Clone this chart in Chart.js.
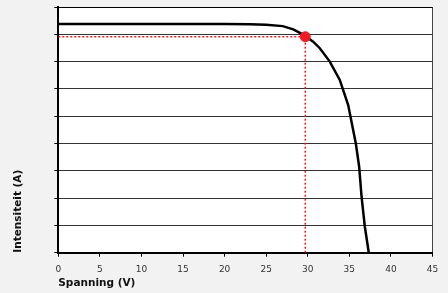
<!DOCTYPE html>
<html>
<head>
<meta charset="utf-8">
<script src="https://cdn.jsdelivr.net/npm/chart.js@4"></script>
<style>
    body { margin: 0; background: #f2f2f2; }
    canvas { display: block; }
</style>
</head>
<body>
<canvas id="iv-chart" width="448" height="293"></canvas>
<script>
// I-V curve
const voltage = [0, 10, 20, 23, 25, 27, 28.25, 29.45, 30.65, 31.45, 32.65, 33.85, 34.86, 35.78, 36.18, 36.47, 36.86, 37.34];
const current = [8.38, 8.38, 8.38, 8.37, 8.35, 8.3, 8.18, 7.99, 7.73, 7.49, 7.0, 6.33, 5.41, 4.0, 3.15, 2.05, 0.96, 0];

// maximum power point
const mppVoltage = 29.7;
const mppCurrent = 7.91;

const xTicks = [0, 5, 10, 15, 20, 25, 30, 35, 40, 45];
const yMax = 9;

const plotBackground = {
    id: 'plotBackground',
    beforeDraw(chart) {
        const { ctx, chartArea: a } = chart;
        ctx.save();
        ctx.fillStyle = '#ffffff';
        ctx.fillRect(a.left, a.top, a.right - a.left, a.bottom - a.top);
        ctx.restore();
    }
};

const curve = voltage.map((v, i) => ({ x: v, y: current[i] }));

new Chart(document.getElementById('iv-chart'), {
    type: 'scatter',
    data: {
        datasets: [
            {
                label: 'MPP',
                data: [{ x: mppVoltage, y: mppCurrent }],
                backgroundColor: '#ee1c25',
                borderColor: '#ee1c25',
                pointRadius: 5,
                showLine: false
            },
            {
                label: 'MPP V',
                data: [{ x: mppVoltage, y: 0 }, { x: mppVoltage, y: mppCurrent }],
                borderColor: '#ee1c25',
                borderWidth: 1.5,
                borderDash: [2, 2],
                pointRadius: 0,
                showLine: true
            },
            {
                label: 'MPP I',
                data: [{ x: 0, y: mppCurrent }, { x: mppVoltage, y: mppCurrent }],
                borderColor: '#ee1c25',
                borderWidth: 1.5,
                borderDash: [2, 2],
                pointRadius: 0,
                showLine: true
            },
            {
                label: 'I-V',
                data: curve,
                borderColor: '#000000',
                borderWidth: 2.5,
                pointRadius: 0,
                tension: 0,
                showLine: true
            }
        ]
    },
    options: {
        responsive: false,
        animation: false,
        layout: { padding: { top: 7, right: 15.5, left: 0, bottom: 0 } },
        plugins: { legend: { display: false }, tooltip: { enabled: false } },
        scales: {
            x: {
                type: 'linear',
                min: 0, max: 45,
                afterBuildTicks: (s) => { s.ticks = xTicks.map(v => ({ value: v })); },
                afterFit: (s) => { s.height = 40.3; },
                ticks: {
                    color: '#333333',
                    padding: 8,
                    font: { family: 'DejaVu Sans', size: 9 }
                },
                grid: {
                    color: (c) => c.tick && c.tick.value === 45 ? '#444444' : 'rgba(0,0,0,0)',
                    tickColor: '#000000',
                    tickLength: 4,
                    lineWidth: 1
                },
                border: { color: '#000000', width: 2 },
                title: {
                    display: true,
                    text: 'Spanning (V)',
                    align: 'start',
                    color: '#111111',
                    padding: { top: 0, bottom: 3 },
                    font: { family: 'DejaVu Sans', size: 10.5, weight: 'bold' }
                }
            },
            y: {
                type: 'linear',
                min: 0, max: yMax,
                afterFit: (s) => { s.width = 58.3; },
                ticks: { display: false, stepSize: 1 },
                grid: {
                    color: (c) => c.tick && c.tick.value === yMax ? '#000000' : '#333333',
                    tickColor: '#000000',
                    tickLength: 4,
                    lineWidth: 1
                },
                border: { color: '#000000', width: 2 },
                title: {
                    display: true,
                    text: 'Intensiteit (A)',
                    align: 'start',
                    color: '#111111',
                    padding: { top: 12, bottom: 0 },
                    font: { family: 'DejaVu Sans', size: 10.5, weight: 'bold' }
                }
            }
        }
    },
    plugins: [plotBackground]
});
</script>
</body>
</html>
